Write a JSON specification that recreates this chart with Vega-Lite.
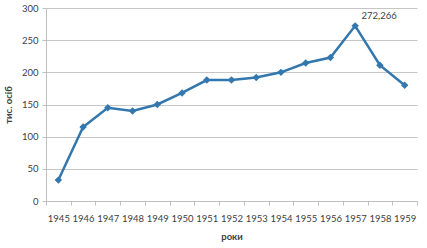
{
  "$schema": "https://vega.github.io/schema/vega-lite/v6.json",
  "width": 371,
  "height": 193,
  "autosize": {"type": "none"},
  "padding": {"left": 46, "top": 8, "right": 10, "bottom": 47},
  "background": "white",
  "config": {
    "view": {"stroke": null},
    "font": "Lato",
    "axis": {"labelFont": "Lato", "titleFont": "Lato", "labelColor": "#404040", "titleColor": "#404040", "labelFontSize": 9.5, "titleFontSize": 9.5}
  },
  "data": {"values": [
    {"year": "1945", "value": 32.5, "label": ""},
    {"year": "1946", "value": 115, "label": ""},
    {"year": "1947", "value": 145, "label": ""},
    {"year": "1948", "value": 140, "label": ""},
    {"year": "1949", "value": 150, "label": ""},
    {"year": "1950", "value": 168, "label": ""},
    {"year": "1951", "value": 188, "label": ""},
    {"year": "1952", "value": 188, "label": ""},
    {"year": "1953", "value": 192, "label": ""},
    {"year": "1954", "value": 200, "label": ""},
    {"year": "1955", "value": 214.5, "label": ""},
    {"year": "1956", "value": 223, "label": ""},
    {"year": "1957", "value": 272.266, "label": "272,266"},
    {"year": "1958", "value": 211, "label": ""},
    {"year": "1959", "value": 180, "label": ""}
  ]},
  "encoding": {
    "x": {"field": "year", "type": "ordinal", "scale": {"type": "band", "paddingInner": 0, "paddingOuter": 0},
      "axis": {"title": "роки", "titleFontWeight": "bold", "titlePadding": 9, "labelAngle": 0, "labelPadding": 8, "tickBand": "extent", "tickSize": 4, "tickColor": "#bfbfbf", "domainColor": "#bfbfbf", "grid": false}},
    "y": {"field": "value", "type": "quantitative", "scale": {"domain": [0, 300]},
      "axis": {"title": "тис. осіб", "titleFontWeight": "bold", "titlePadding": 8, "values": [0, 50, 100, 150, 200, 250, 300], "tickSize": 4, "tickColor": "#bfbfbf", "domainColor": "#bfbfbf", "gridColor": "#c6c6c6", "labelPadding": 4}}
  },
  "layer": [
    {"mark": {"type": "line", "color": "#3377ad", "strokeWidth": 2.5}},
    {"mark": {"type": "point", "shape": "diamond", "filled": true, "color": "#3377ad", "size": 55, "opacity": 1}},
    {"mark": {"type": "text", "dx": 24, "dy": -10, "fontSize": 9.5, "color": "#404040", "font": "Lato"},
      "encoding": {"text": {"field": "label"}}}
  ]
}
